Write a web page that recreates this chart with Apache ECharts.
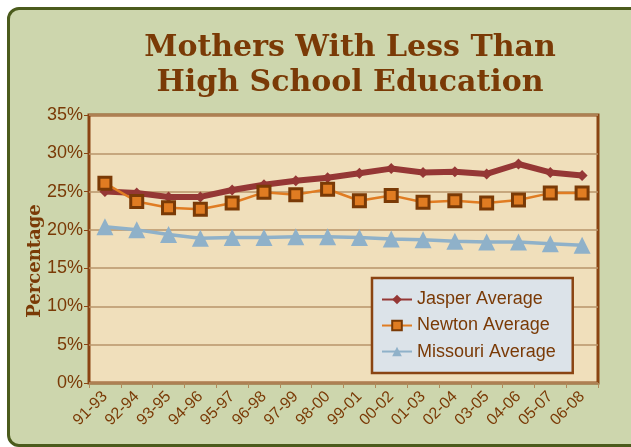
<!DOCTYPE html>
<html>
<head>
	<title>Mothers With Less Than High School Education</title>
	<script src="https://cdn.jsdelivr.net/npm/echarts@6/dist/echarts.min.js"></script>
	<style>
		body { margin: 0; background: #fff; overflow: hidden; }
		#frame { position: absolute; left: 7px; top: 7px; width: 640px; height: 434px;
			background: #cdd6ad; border: 3px solid #4b5b1c; border-radius: 12px; }
		#chart { position: absolute; left: 0; top: 0; width: 631px; height: 447px; }
	</style>
</head>
<body>
	<div id="frame"></div>
	<div id="chart"></div>
	<script>
		var periods = ['91-93', '92-94', '93-95', '94-96', '95-97', '96-98', '97-99', '98-00',
			'99-01', '00-02', '01-03', '02-04', '03-05', '04-06', '05-07', '06-08'];
		var jasper = [25.0, 24.8, 24.3, 24.3, 25.2, 25.9, 26.4, 26.8, 27.4, 28.0, 27.5, 27.6, 27.3, 28.6, 27.5, 27.1];
		var newton = [26.1, 23.7, 22.9, 22.7, 23.5, 24.9, 24.6, 25.3, 23.8, 24.5, 23.6, 23.8, 23.5, 23.9, 24.8, 24.8];
		var missouri = [20.4, 20.0, 19.4, 18.9, 19.0, 19.0, 19.1, 19.1, 19.0, 18.8, 18.7, 18.5, 18.4, 18.4, 18.2, 18.0];

		var brown = '#7a3a06';
		var sans = "'Liberation Sans Narrow', 'Arial Narrow', 'Liberation Sans'";
		var chart = echarts.init(document.getElementById('chart'));
		chart.setOption({
			animation: false,
			title: {
				text: 'Mothers With Less Than\nHigh School Education',
				left: 345,
				textAlign: 'center',
				top: 26,
				textStyle: { fontFamily: 'DejaVu Serif', fontWeight: 'bold', fontSize: 30,
					lineHeight: 35, color: brown }
			},
			graphic: [{
				type: 'text',
				x: 35, y: 261,
				rotation: Math.PI / 2,
				style: { text: 'Percentage', fontFamily: 'DejaVu Serif', fontWeight: 'bold',
					fontSize: 18, fill: brown, align: 'center', verticalAlign: 'middle' }
			}],
			legend: {
				orient: 'vertical',
				left: 372,
				top: 278,
				padding: [6, 17, 6, 9],
				itemGap: -5,
				itemWidth: 30,
				itemHeight: 12,
				backgroundColor: '#dce3e9',
				borderColor: '#8a4412',
				borderWidth: 2.5,
				textStyle: { fontFamily: sans, fontSize: 18, color: brown }
			},
			grid: { left: 89, right: 33, top: 115, bottom: 64, show: true,
				backgroundColor: '#f0dfbb', borderColor: '#8a4412', borderWidth: 3 },
			xAxis: {
				type: 'category',
				data: periods,
				boundaryGap: true,
				axisLine: { show: false },
				axisTick: { show: true, length: 5, lineStyle: { color: '#b08a5a' } },
				axisLabel: { rotate: 45, margin: 11, fontFamily: sans, fontSize: 16,
					color: brown, interval: 0 }
			},
			yAxis: {
				type: 'value',
				min: 0, max: 35, interval: 5,
				axisLine: { show: false },
				axisTick: { show: true, length: 5, lineStyle: { color: '#8a4412' } },
				axisLabel: { formatter: '{value}%', margin: 6, fontFamily: sans,
					fontSize: 18, color: brown },
				splitLine: { lineStyle: { color: '#b8956a', width: 1.5 } }
			},
			series: [
				{
					name: 'Jasper Average', type: 'line', data: jasper,
					symbol: 'diamond', symbolSize: 11,
					lineStyle: { color: '#953735', width: 6 },
					itemStyle: { color: '#953735' }
				},
				{
					name: 'Newton Average', type: 'line', data: newton,
					symbol: 'rect', symbolSize: 12,
					lineStyle: { color: '#e07c22', width: 2.5 },
					itemStyle: { color: '#e07c22', borderColor: '#7a3a06', borderWidth: 3 }
				},
				{
					name: 'Missouri Average', type: 'line', data: missouri,
					symbol: 'triangle', symbolSize: 17,
					lineStyle: { color: '#8fb1c9', width: 3.5 },
					itemStyle: { color: '#8fb1c9' }
				}
			]
		});
	</script>
</body>
</html>
